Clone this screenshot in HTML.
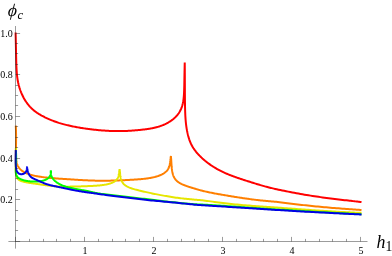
<!DOCTYPE html>
<html><head><meta charset="utf-8"><style>
html,body{margin:0;padding:0;background:#fff;}
body{width:392px;height:256px;position:relative;overflow:hidden;font-family:"Liberation Serif",serif;color:#000;}
.xl{position:absolute;left:0;top:0;transform-origin:0 0;width:20px;text-align:center;font-size:10px;line-height:12px;}
.yl{position:absolute;left:0;top:0;transform-origin:0 0;width:30px;text-align:right;font-size:10px;line-height:12px;}
.t{position:absolute;left:0;top:0;transform-origin:0 0;font-style:italic;white-space:nowrap;}
.xl,.yl,.t{will-change:transform;}
.t sub{font-size:76%;vertical-align:baseline;position:relative;}
</style></head><body>
<svg width="392" height="256" viewBox="0 0 392 256" style="position:absolute;left:0;top:0">
<path d="M15.60 32.50L15.67 35.33L15.74 38.05L15.80 40.65L15.85 43.16L15.90 45.56L15.95 47.86L15.99 50.07L16.03 52.19L16.07 54.22L16.12 56.17L16.16 58.04L16.20 59.83L16.24 61.19L16.27 62.32L16.30 63.41L16.34 64.47L16.38 65.50L16.42 66.51L16.46 67.50L16.51 68.45L16.56 69.39L16.61 70.30L16.67 71.19L16.73 72.06L16.79 72.85L16.84 73.44L16.89 74.03L16.95 74.61L17.00 75.17L17.06 75.74L17.12 76.29L17.19 76.84L17.26 77.38L17.33 77.92L17.40 78.45L17.48 78.97L17.56 79.49L17.65 80.01L17.74 80.52L17.83 81.03L17.93 81.54L18.03 82.04L18.13 82.55L18.24 83.05L18.35 83.54L18.47 84.04L18.59 84.54L18.71 85.03L18.85 85.53L18.98 86.04L19.13 86.56L19.29 87.09L19.44 87.62L19.61 88.14L19.78 88.67L19.95 89.19L20.13 89.72L20.32 90.24L20.51 90.77L20.71 91.29L20.91 91.81L21.11 92.33L21.32 92.83L21.53 93.32L21.74 93.81L21.96 94.31L22.18 94.80L22.41 95.28L22.64 95.77L22.88 96.26L23.12 96.74L23.37 97.22L23.63 97.70L23.88 98.17L24.16 98.66L24.44 99.15L24.73 99.64L25.02 100.12L25.32 100.61L25.63 101.08L25.94 101.56L26.25 102.03L26.58 102.49L26.90 102.96L27.24 103.41L27.58 103.87L27.92 104.31L28.27 104.75L28.62 105.18L28.98 105.61L29.34 106.03L29.71 106.45L30.09 106.87L30.47 107.27L30.86 107.67L31.25 108.07L31.65 108.46L32.06 108.85L32.47 109.22L32.90 109.61L33.35 110.00L33.80 110.38L34.26 110.75L34.72 111.11L35.19 111.47L35.66 111.82L36.14 112.17L36.63 112.51L37.12 112.85L37.62 113.18L38.13 113.51L38.63 113.82L39.12 114.13L39.63 114.43L40.13 114.73L40.65 115.03L41.17 115.32L41.69 115.61L42.22 115.89L42.75 116.17L43.28 116.45L43.83 116.73L44.37 117.00L44.92 117.28L45.47 117.54L46.02 117.81L46.58 118.07L47.14 118.33L47.71 118.59L48.28 118.84L48.85 119.10L49.43 119.35L50.02 119.60L50.61 119.84L51.20 120.09L51.80 120.33L52.55 120.62L53.31 120.91L54.07 121.20L54.85 121.49L55.63 121.77L56.42 122.04L57.22 122.32L58.03 122.58L58.85 122.85L59.67 123.10L60.50 123.36L61.34 123.61L62.23 123.86L63.17 124.12L64.11 124.38L65.06 124.63L66.02 124.87L66.98 125.11L67.96 125.34L68.94 125.57L69.93 125.79L70.92 126.01L71.92 126.23L72.93 126.43L73.94 126.63L74.95 126.83L75.96 127.02L76.97 127.21L77.99 127.39L79.01 127.57L80.04 127.74L81.06 127.91L82.09 128.07L83.11 128.23L84.14 128.38L85.17 128.53L86.20 128.68L87.19 128.81L88.17 128.94L89.15 129.07L90.13 129.19L91.10 129.31L92.08 129.43L93.05 129.54L94.01 129.65L94.98 129.75L95.94 129.85L96.89 129.95L97.84 130.04L98.81 130.13L99.79 130.22L100.76 130.31L101.73 130.39L102.69 130.47L103.65 130.54L104.61 130.61L105.56 130.68L106.50 130.74L107.44 130.80L108.38 130.85L109.31 130.90L110.22 130.94L111.00 130.97L111.77 131.00L112.54 131.03L113.31 131.05L114.07 131.07L114.84 131.09L115.60 131.10L116.36 131.11L117.12 131.12L117.88 131.12L118.64 131.12L119.39 131.12L120.19 131.11L121.00 131.10L121.80 131.09L122.61 131.07L123.41 131.04L124.21 131.02L125.01 130.99L125.81 130.95L126.60 130.92L127.40 130.88L128.19 130.83L128.98 130.79L129.76 130.74L130.55 130.69L131.33 130.64L132.10 130.58L132.88 130.53L133.65 130.47L134.42 130.40L135.18 130.34L135.94 130.28L136.70 130.21L137.45 130.14L138.20 130.07L138.94 130.00L139.59 129.94L140.24 129.88L140.88 129.81L141.53 129.75L142.16 129.68L142.80 129.61L143.43 129.54L144.06 129.46L144.68 129.39L145.30 129.31L145.92 129.23L146.54 129.15L147.11 129.07L147.66 128.99L148.21 128.91L148.76 128.83L149.30 128.74L149.85 128.65L150.39 128.56L150.92 128.46L151.46 128.37L151.99 128.27L152.52 128.16L153.05 128.05L153.58 127.94L154.10 127.83L154.63 127.71L155.15 127.58L155.67 127.46L156.19 127.32L156.71 127.19L157.22 127.05L157.73 126.90L158.24 126.76L158.75 126.60L159.25 126.44L159.76 126.28L160.26 126.11L160.77 125.93L161.27 125.75L161.77 125.57L162.27 125.37L162.76 125.18L163.26 124.97L163.75 124.76L164.24 124.55L164.73 124.33L165.21 124.10L165.70 123.86L166.19 123.62L166.69 123.36L167.19 123.09L167.68 122.82L168.17 122.54L168.66 122.26L169.14 121.97L169.62 121.67L170.10 121.36L170.57 121.05L171.03 120.73L171.49 120.41L171.94 120.08L172.37 119.76L172.79 119.44L173.21 119.10L173.62 118.77L174.02 118.42L174.42 118.08L174.80 117.73L175.18 117.37L175.56 117.01L175.92 116.64L176.27 116.27L176.62 115.89L176.94 115.53L177.26 115.16L177.56 114.79L177.86 114.41L178.14 114.03L178.42 113.65L178.70 113.26L178.96 112.87L179.21 112.47L179.46 112.07L179.70 111.66L179.93 111.25L180.15 110.85L180.36 110.45L180.56 110.05L180.75 109.64L180.94 109.23L181.12 108.82L181.30 108.40L181.46 107.97L181.62 107.55L181.78 107.12L181.93 106.68L182.07 106.25L182.21 105.80L182.33 105.38L182.45 104.94L182.56 104.50L182.67 104.06L182.78 103.61L182.88 103.16L182.97 102.70L183.06 102.23L183.15 101.76L183.23 101.28L183.31 100.80L183.38 100.30L183.47 99.63L183.57 98.87L183.65 98.10L183.73 97.31L183.80 96.49L183.87 95.66L183.93 94.79L183.98 93.91L184.03 93.00L184.07 92.06L184.11 91.09L184.15 90.10L184.19 88.86L184.24 87.18L184.28 85.43L184.31 83.59L184.35 81.66L184.38 79.63L184.42 77.51L184.46 75.29L184.50 72.96L184.55 70.52L184.61 67.97L184.67 65.29L184.75 62.50L184.75 62.50L184.77 65.84L184.80 69.07L184.81 72.18L184.83 75.18L184.84 78.07L184.85 80.85L184.86 83.53L184.87 86.11L184.88 88.60L184.88 90.99L184.89 93.30L184.91 95.51L184.92 97.40L184.93 98.85L184.94 100.26L184.96 101.63L184.98 102.97L184.99 104.28L185.01 105.55L185.04 106.79L185.06 107.99L185.09 109.17L185.13 110.32L185.16 111.44L185.20 112.54L185.24 113.39L185.27 114.17L185.30 114.94L185.34 115.69L185.38 116.43L185.43 117.16L185.47 117.88L185.52 118.59L185.57 119.29L185.62 119.98L185.68 120.66L185.74 121.33L185.80 121.98L185.86 122.58L185.92 123.17L185.98 123.76L186.05 124.34L186.12 124.92L186.19 125.49L186.27 126.06L186.35 126.62L186.43 127.18L186.52 127.74L186.60 128.29L186.69 128.84L186.78 129.32L186.85 129.74L186.93 130.17L187.01 130.59L187.09 131.02L187.18 131.44L187.27 131.86L187.35 132.28L187.45 132.71L187.54 133.13L187.63 133.55L187.73 133.97L187.83 134.40L187.96 134.90L188.09 135.42L188.22 135.94L188.36 136.45L188.50 136.97L188.65 137.49L188.80 138.01L188.96 138.53L189.13 139.05L189.30 139.58L189.48 140.10L189.67 140.62L189.89 141.19L190.14 141.82L190.40 142.46L190.68 143.11L190.97 143.75L191.28 144.39L191.61 145.04L191.95 145.68L192.31 146.33L192.68 146.98L193.08 147.63L193.49 148.28L193.93 148.94L194.40 149.61L194.89 150.28L195.40 150.95L195.93 151.63L196.48 152.30L197.05 152.98L197.64 153.65L198.25 154.32L198.88 154.99L199.52 155.66L200.18 156.32L200.85 156.98L201.55 157.65L202.40 158.44L203.27 159.21L204.16 159.98L205.06 160.74L205.99 161.49L206.92 162.23L207.87 162.96L208.83 163.68L209.81 164.38L210.79 165.07L211.79 165.74L212.79 166.40L213.78 167.02L214.75 167.62L215.73 168.21L216.71 168.78L217.70 169.33L218.70 169.87L219.70 170.40L220.70 170.91L221.71 171.42L222.72 171.91L223.74 172.38L224.76 172.85L225.78 173.31L226.78 173.74L227.78 174.17L228.79 174.59L229.79 174.99L230.80 175.39L231.81 175.78L232.83 176.17L233.84 176.54L234.85 176.91L235.87 177.27L236.88 177.63L237.89 177.98L238.90 178.32L239.90 178.66L240.90 178.99L241.90 179.31L242.89 179.64L243.89 179.96L244.88 180.27L245.87 180.59L246.86 180.90L247.85 181.21L248.83 181.51L249.82 181.82L250.79 182.13L251.77 182.43L252.74 182.74L253.71 183.04L254.68 183.34L255.64 183.64L256.60 183.94L257.55 184.24L258.50 184.53L259.44 184.81L260.38 185.09L261.32 185.37L262.24 185.64L263.16 185.91L263.99 186.14L264.83 186.37L265.66 186.60L266.50 186.82L267.35 187.04L268.21 187.27L269.09 187.49L269.98 187.71L270.90 187.93L271.84 188.15L272.81 188.38L273.81 188.61L275.10 188.90L276.78 189.27L278.53 189.65L280.35 190.04L282.23 190.44L284.16 190.84L286.14 191.24L288.15 191.64L290.19 192.04L292.24 192.43L294.31 192.83L296.37 193.21L298.44 193.59L300.48 193.95L302.50 194.31L304.52 194.65L306.53 194.99L308.53 195.31L310.52 195.63L312.52 195.94L314.51 196.25L316.51 196.54L318.51 196.83L320.52 197.12L322.54 197.40L324.58 197.67L326.62 197.94L328.67 198.21L330.71 198.47L332.76 198.73L334.80 198.98L336.81 199.22L338.81 199.46L340.78 199.69L342.72 199.92L344.61 200.14L346.46 200.35L348.26 200.56L349.70 200.72L350.90 200.86L352.07 200.99L353.20 201.12L354.30 201.25L355.36 201.37L356.38 201.49L357.35 201.60L358.28 201.71L359.16 201.81L359.99 201.91L360.77 202.01L361.50 202.10" fill="none" stroke="#ff0000" stroke-width="2.0" stroke-linejoin="miter" stroke-linecap="butt"/>
<path d="M15.80 125.59L15.90 128.07L15.98 130.45L16.03 132.73L16.06 134.93L16.08 137.03L16.08 139.05L16.07 140.99L16.05 142.84L16.02 144.62L15.99 146.32L15.96 147.94L15.93 149.50L15.91 150.70L15.90 151.62L15.90 152.51L15.90 153.38L15.90 154.22L15.91 155.04L15.93 155.84L15.95 156.61L15.99 157.35L16.03 158.08L16.09 158.79L16.15 159.47L16.22 160.12L16.29 160.57L16.35 161.01L16.43 161.45L16.51 161.88L16.59 162.29L16.69 162.70L16.79 163.10L16.90 163.50L17.02 163.88L17.15 164.26L17.29 164.63L17.43 164.99L17.58 165.33L17.73 165.65L17.89 165.97L18.05 166.28L18.23 166.58L18.41 166.88L18.60 167.18L18.80 167.47L19.00 167.75L19.22 168.03L19.44 168.30L19.66 168.57L19.91 168.84L20.21 169.15L20.52 169.46L20.84 169.76L21.17 170.05L21.51 170.33L21.86 170.61L22.22 170.88L22.60 171.14L22.98 171.40L23.38 171.65L23.79 171.89L24.20 172.13L24.64 172.37L25.09 172.60L25.56 172.83L26.03 173.05L26.52 173.26L27.02 173.47L27.53 173.68L28.05 173.87L28.58 174.07L29.12 174.25L29.67 174.43L30.23 174.61L30.82 174.79L31.51 174.98L32.21 175.17L32.93 175.35L33.65 175.53L34.39 175.69L35.14 175.86L35.91 176.01L36.68 176.16L37.46 176.31L38.25 176.45L39.06 176.59L39.87 176.72L40.79 176.86L41.76 176.99L42.73 177.13L43.71 177.25L44.70 177.37L45.70 177.49L46.71 177.60L47.72 177.71L48.74 177.81L49.76 177.91L50.79 178.00L51.82 178.09L52.85 178.18L53.88 178.26L54.91 178.34L55.95 178.41L56.98 178.49L58.01 178.56L59.04 178.63L60.07 178.70L61.09 178.77L62.11 178.84L63.13 178.90L64.14 178.97L65.14 179.03L66.14 179.10L67.13 179.16L68.11 179.22L69.09 179.29L70.07 179.35L71.03 179.41L72.00 179.48L72.95 179.54L73.91 179.60L74.86 179.66L75.80 179.72L76.74 179.78L77.66 179.84L78.55 179.89L79.44 179.94L80.32 179.99L81.21 180.04L82.09 180.09L82.97 180.14L83.85 180.19L84.72 180.23L85.60 180.28L86.48 180.32L87.36 180.36L88.24 180.39L89.02 180.43L89.79 180.46L90.57 180.49L91.35 180.51L92.13 180.54L92.91 180.56L93.69 180.59L94.48 180.61L95.26 180.63L96.05 180.64L96.84 180.66L97.64 180.67L98.51 180.68L99.47 180.70L100.43 180.70L101.39 180.71L102.36 180.71L103.33 180.71L104.30 180.71L105.27 180.70L106.25 180.69L107.23 180.68L108.21 180.67L109.19 180.65L110.17 180.64L111.15 180.62L112.13 180.60L113.12 180.57L114.10 180.55L115.08 180.52L116.06 180.49L117.04 180.45L118.02 180.42L118.99 180.39L119.97 180.35L120.94 180.31L121.91 180.27L122.85 180.23L123.78 180.18L124.70 180.14L125.62 180.10L126.53 180.05L127.45 180.00L128.35 179.95L129.25 179.91L130.15 179.85L131.05 179.80L131.93 179.75L132.82 179.70L133.67 179.64L134.40 179.60L135.12 179.55L135.84 179.50L136.56 179.45L137.27 179.40L137.97 179.35L138.67 179.30L139.37 179.24L140.06 179.19L140.75 179.13L141.43 179.07L142.11 179.01L142.78 178.94L143.45 178.87L144.11 178.80L144.77 178.73L145.42 178.65L146.07 178.57L146.71 178.49L147.35 178.41L147.98 178.32L148.60 178.22L149.22 178.13L149.84 178.03L150.44 177.92L151.01 177.82L151.57 177.71L152.13 177.60L152.68 177.49L153.23 177.37L153.77 177.24L154.31 177.11L154.84 176.98L155.36 176.84L155.88 176.70L156.40 176.55L156.91 176.40L157.38 176.25L157.83 176.10L158.28 175.95L158.72 175.79L159.15 175.63L159.58 175.46L160.01 175.29L160.43 175.12L160.84 174.93L161.24 174.75L161.64 174.55L162.03 174.36L162.40 174.16L162.74 173.97L163.08 173.78L163.40 173.59L163.72 173.39L164.04 173.18L164.34 172.97L164.64 172.76L164.93 172.54L165.22 172.31L165.50 172.08L165.77 171.85L166.03 171.61L166.26 171.40L166.47 171.18L166.68 170.96L166.88 170.74L167.08 170.51L167.27 170.28L167.45 170.05L167.62 169.81L167.79 169.56L167.96 169.32L168.11 169.07L168.26 168.81L168.40 168.55L168.53 168.30L168.65 168.04L168.77 167.78L168.88 167.51L168.98 167.24L169.08 166.97L169.18 166.69L169.27 166.41L169.35 166.13L169.43 165.84L169.51 165.56L169.58 165.27L169.66 164.92L169.73 164.57L169.80 164.21L169.87 163.85L169.93 163.49L169.99 163.12L170.04 162.76L170.10 162.39L170.14 162.01L170.19 161.64L170.24 161.27L170.28 160.89L170.32 160.51L170.37 160.14L170.41 159.76L170.45 159.39L170.49 159.01L170.54 158.63L170.58 158.25L170.63 157.88L170.68 157.50L170.73 157.12L170.78 156.75L170.84 156.37L170.90 156.00L170.90 156.00L170.94 156.43L170.98 156.85L171.02 157.28L171.05 157.71L171.08 158.13L171.12 158.56L171.15 158.98L171.18 159.40L171.20 159.83L171.23 160.25L171.26 160.67L171.28 161.09L171.30 161.48L171.32 161.85L171.35 162.21L171.37 162.57L171.39 162.93L171.41 163.29L171.43 163.65L171.45 164.01L171.47 164.37L171.50 164.72L171.52 165.08L171.54 165.43L171.57 165.78L171.60 166.12L171.62 166.46L171.65 166.79L171.68 167.12L171.71 167.45L171.74 167.78L171.77 168.11L171.80 168.44L171.84 168.76L171.88 169.08L171.92 169.40L171.96 169.72L172.00 170.05L172.05 170.38L172.10 170.71L172.16 171.04L172.21 171.37L172.27 171.69L172.33 172.01L172.40 172.33L172.47 172.65L172.54 172.96L172.61 173.27L172.69 173.58L172.77 173.89L172.85 174.17L172.94 174.44L173.02 174.71L173.11 174.98L173.20 175.25L173.30 175.52L173.40 175.78L173.50 176.04L173.61 176.29L173.72 176.55L173.84 176.80L173.96 177.05L174.07 177.27L174.18 177.47L174.29 177.68L174.40 177.87L174.52 178.07L174.64 178.27L174.76 178.46L174.89 178.65L175.02 178.83L175.15 179.02L175.29 179.20L175.43 179.38L175.57 179.56L175.72 179.74L175.87 179.91L176.02 180.08L176.18 180.25L176.34 180.41L176.51 180.58L176.67 180.74L176.85 180.90L177.02 181.05L177.20 181.21L177.38 181.36L177.57 181.51L177.79 181.69L178.05 181.89L178.32 182.08L178.60 182.28L178.88 182.47L179.16 182.65L179.45 182.84L179.75 183.01L180.05 183.19L180.36 183.36L180.67 183.53L180.98 183.70L181.30 183.87L181.60 184.02L181.91 184.17L182.22 184.31L182.53 184.46L182.85 184.60L183.17 184.74L183.49 184.88L183.82 185.01L184.15 185.15L184.48 185.28L184.82 185.41L185.16 185.54L185.50 185.67L185.83 185.79L186.17 185.91L186.51 186.04L186.86 186.16L187.21 186.27L187.55 186.39L187.90 186.51L188.26 186.63L188.61 186.74L188.97 186.86L189.33 186.97L189.69 187.08L190.16 187.23L190.63 187.38L191.11 187.52L191.58 187.67L192.06 187.81L192.54 187.95L193.03 188.10L193.51 188.24L194.00 188.39L194.49 188.53L194.98 188.68L195.47 188.82L195.93 188.96L196.36 189.09L196.80 189.22L197.24 189.35L197.69 189.48L198.14 189.62L198.59 189.75L199.05 189.88L199.52 190.02L200.00 190.15L200.49 190.29L200.99 190.42L201.51 190.56L202.32 190.77L203.17 190.98L204.04 191.19L204.93 191.40L205.85 191.61L206.79 191.82L207.74 192.02L208.71 192.23L209.69 192.43L210.68 192.63L211.69 192.83L212.69 193.03L213.70 193.23L214.72 193.42L215.73 193.61L216.75 193.79L217.77 193.98L218.79 194.16L219.81 194.34L220.83 194.51L221.86 194.69L222.88 194.87L223.90 195.04L224.93 195.21L225.95 195.39L226.97 195.56L228.00 195.73L229.02 195.90L230.04 196.07L231.05 196.23L232.07 196.40L233.09 196.57L234.10 196.73L235.12 196.89L236.13 197.05L237.14 197.21L238.15 197.37L239.16 197.53L240.17 197.69L241.17 197.84L242.17 197.99L243.17 198.14L244.17 198.29L245.17 198.43L246.16 198.58L247.15 198.72L248.14 198.86L249.13 198.99L250.11 199.13L251.09 199.26L252.07 199.39L253.04 199.51L254.01 199.63L254.98 199.75L255.94 199.87L256.90 199.98L257.86 200.09L258.81 200.20L259.76 200.30L260.71 200.40L261.65 200.50L262.59 200.59L263.48 200.68L264.34 200.76L265.19 200.83L266.05 200.91L266.91 200.99L267.78 201.06L268.67 201.14L269.58 201.22L270.50 201.30L271.45 201.39L272.42 201.48L273.42 201.58L274.45 201.68L276.12 201.86L277.86 202.05L279.66 202.26L281.53 202.47L283.45 202.70L285.42 202.94L287.42 203.18L289.45 203.42L291.50 203.67L293.57 203.92L295.64 204.17L297.71 204.42L299.77 204.66L301.82 204.90L303.86 205.13L305.89 205.35L307.91 205.57L309.93 205.79L311.95 206.00L313.97 206.21L315.99 206.41L318.02 206.61L320.05 206.80L322.09 206.99L324.14 207.18L326.20 207.36L328.27 207.54L330.34 207.71L332.40 207.88L334.46 208.05L336.49 208.21L338.51 208.36L340.50 208.52L342.45 208.66L344.36 208.81L346.23 208.94L348.05 209.08L349.56 209.19L350.77 209.27L351.95 209.36L353.10 209.44L354.21 209.52L355.28 209.60L356.31 209.67L357.29 209.74L358.23 209.81L359.12 209.87L359.97 209.94L360.76 209.99L361.50 210.05" fill="none" stroke="#ff7f00" stroke-width="2.0" stroke-linejoin="miter" stroke-linecap="butt"/>
<path d="M15.90 147.84L15.91 149.56L15.92 151.21L15.91 152.80L15.91 154.34L15.89 155.81L15.88 157.23L15.86 158.59L15.84 159.89L15.81 161.15L15.79 162.35L15.77 163.50L15.75 164.60L15.74 165.43L15.73 166.08L15.73 166.72L15.72 167.33L15.72 167.93L15.72 168.50L15.72 169.07L15.73 169.61L15.74 170.14L15.75 170.64L15.77 171.14L15.79 171.62L15.81 172.05L15.83 172.35L15.85 172.64L15.87 172.92L15.90 173.20L15.92 173.47L15.95 173.73L15.98 173.99L16.02 174.24L16.05 174.49L16.09 174.73L16.13 174.96L16.18 175.19L16.22 175.39L16.26 175.58L16.31 175.77L16.35 175.95L16.40 176.13L16.45 176.30L16.51 176.47L16.56 176.64L16.62 176.80L16.68 176.96L16.75 177.12L16.81 177.27L16.88 177.42L16.94 177.55L17.01 177.68L17.08 177.81L17.15 177.94L17.23 178.06L17.30 178.18L17.38 178.30L17.46 178.42L17.55 178.53L17.64 178.64L17.72 178.75L17.82 178.86L17.92 178.97L18.03 179.09L18.14 179.20L18.26 179.31L18.38 179.41L18.50 179.52L18.63 179.62L18.76 179.72L18.89 179.82L19.03 179.91L19.17 180.01L19.31 180.10L19.47 180.19L19.63 180.28L19.80 180.37L19.97 180.46L20.15 180.55L20.33 180.63L20.52 180.72L20.71 180.80L20.91 180.88L21.11 180.96L21.32 181.03L21.53 181.11L21.74 181.18L21.96 181.26L22.19 181.33L22.41 181.40L22.64 181.46L22.88 181.53L23.12 181.60L23.37 181.66L23.62 181.73L23.87 181.79L24.13 181.85L24.39 181.91L24.66 181.97L25.02 182.05L25.45 182.14L25.88 182.23L26.33 182.32L26.78 182.41L27.24 182.49L27.70 182.57L28.17 182.65L28.65 182.73L29.13 182.81L29.62 182.89L30.11 182.96L30.60 183.04L31.10 183.11L31.60 183.19L32.10 183.26L32.61 183.33L33.12 183.40L33.63 183.48L34.14 183.55L34.65 183.62L35.16 183.69L35.67 183.76L36.18 183.84L36.68 183.91L37.19 183.98L37.70 184.06L38.20 184.13L38.71 184.20L39.21 184.28L39.71 184.35L40.21 184.43L40.71 184.50L41.21 184.58L41.71 184.65L42.21 184.72L42.71 184.80L43.18 184.87L43.59 184.92L44.00 184.98L44.41 185.04L44.82 185.10L45.23 185.16L45.64 185.22L46.06 185.27L46.47 185.33L46.89 185.38L47.30 185.44L47.72 185.49L48.14 185.54L48.69 185.61L49.25 185.68L49.81 185.74L50.37 185.81L50.94 185.87L51.51 185.93L52.09 185.98L52.67 186.04L53.25 186.09L53.84 186.14L54.43 186.19L55.03 186.24L55.68 186.28L56.38 186.33L57.08 186.37L57.80 186.41L58.51 186.44L59.24 186.48L59.96 186.50L60.70 186.53L61.43 186.55L62.17 186.57L62.92 186.59L63.66 186.60L64.41 186.61L65.06 186.62L65.71 186.63L66.36 186.63L67.02 186.63L67.68 186.64L68.33 186.63L68.99 186.63L69.65 186.63L70.31 186.62L70.96 186.62L71.62 186.61L72.28 186.60L72.97 186.59L73.68 186.57L74.38 186.56L75.09 186.54L75.79 186.53L76.49 186.51L77.18 186.49L77.88 186.47L78.57 186.45L79.26 186.43L79.94 186.41L80.62 186.38L81.28 186.36L81.90 186.34L82.52 186.32L83.13 186.29L83.74 186.27L84.35 186.25L84.94 186.22L85.54 186.20L86.12 186.17L86.71 186.15L87.28 186.13L87.85 186.10L88.42 186.08L88.84 186.06L89.23 186.05L89.62 186.03L90.01 186.01L90.39 186.00L90.77 185.98L91.15 185.97L91.53 185.95L91.90 185.93L92.28 185.91L92.65 185.90L93.02 185.88L93.45 185.85L93.98 185.83L94.50 185.80L95.02 185.77L95.55 185.73L96.07 185.70L96.60 185.66L97.12 185.62L97.66 185.58L98.19 185.54L98.73 185.49L99.27 185.44L99.82 185.39L100.33 185.33L100.84 185.28L101.36 185.22L101.88 185.16L102.40 185.10L102.92 185.03L103.43 184.96L103.95 184.88L104.47 184.80L104.98 184.72L105.49 184.63L106.00 184.54L106.49 184.44L106.98 184.34L107.45 184.23L107.92 184.12L108.39 184.00L108.84 183.88L109.29 183.75L109.74 183.61L110.17 183.47L110.60 183.33L111.02 183.18L111.43 183.02L111.82 182.86L112.13 182.73L112.44 182.60L112.73 182.46L113.03 182.31L113.31 182.17L113.59 182.02L113.87 181.86L114.13 181.70L114.39 181.54L114.65 181.37L114.90 181.20L115.14 181.03L115.36 180.85L115.58 180.67L115.79 180.49L116.00 180.31L116.20 180.12L116.39 179.92L116.57 179.73L116.75 179.52L116.92 179.32L117.08 179.11L117.23 178.89L117.38 178.68L117.51 178.45L117.64 178.23L117.76 178.00L117.87 177.77L117.98 177.54L118.08 177.30L118.17 177.06L118.26 176.82L118.34 176.57L118.42 176.32L118.49 176.07L118.56 175.81L118.62 175.56L118.68 175.30L118.73 175.04L118.78 174.79L118.83 174.53L118.87 174.27L118.91 174.00L118.95 173.74L118.99 173.48L119.03 173.21L119.06 172.95L119.09 172.69L119.13 172.42L119.16 172.16L119.19 171.90L119.22 171.64L119.25 171.38L119.28 171.12L119.32 170.86L119.35 170.60L119.39 170.35L119.43 170.09L119.47 169.84L119.51 169.59L119.55 169.34L119.60 169.10L119.60 169.10L119.65 169.50L119.70 169.89L119.74 170.29L119.78 170.68L119.82 171.06L119.86 171.44L119.90 171.82L119.94 172.19L119.98 172.57L120.01 172.93L120.05 173.30L120.09 173.66L120.12 174.00L120.16 174.32L120.20 174.64L120.23 174.96L120.27 175.27L120.31 175.58L120.35 175.89L120.40 176.19L120.45 176.49L120.49 176.79L120.55 177.08L120.60 177.38L120.66 177.67L120.71 177.94L120.77 178.20L120.84 178.46L120.90 178.72L120.97 178.98L121.04 179.23L121.12 179.48L121.20 179.73L121.29 179.98L121.38 180.22L121.47 180.46L121.57 180.70L121.67 180.94L121.78 181.17L121.89 181.40L122.01 181.63L122.13 181.85L122.26 182.07L122.40 182.29L122.54 182.51L122.68 182.73L122.84 182.94L123.00 183.15L123.16 183.36L123.34 183.56L123.52 183.77L123.72 183.99L123.93 184.20L124.15 184.41L124.37 184.61L124.61 184.81L124.85 185.01L125.11 185.21L125.37 185.40L125.64 185.59L125.93 185.78L126.22 185.97L126.52 186.15L126.96 186.40L127.43 186.65L127.92 186.89L128.44 187.13L128.96 187.37L129.51 187.60L130.08 187.82L130.66 188.04L131.26 188.26L131.88 188.47L132.51 188.68L133.16 188.88L133.88 189.10L134.73 189.35L135.59 189.59L136.48 189.83L137.39 190.07L138.31 190.30L139.25 190.54L140.21 190.76L141.18 190.99L142.16 191.22L143.15 191.44L144.16 191.67L145.17 191.89L146.28 192.14L147.44 192.39L148.60 192.64L149.78 192.89L150.96 193.14L152.16 193.40L153.36 193.65L154.57 193.90L155.79 194.14L157.02 194.39L158.25 194.63L159.49 194.87L160.76 195.11L162.11 195.37L163.47 195.62L164.83 195.86L166.21 196.10L167.59 196.34L168.98 196.57L170.38 196.80L171.78 197.02L173.19 197.23L174.60 197.44L176.03 197.64L177.45 197.84L178.88 198.03L180.32 198.21L181.75 198.38L183.17 198.54L184.57 198.70L185.96 198.85L187.32 198.99L188.65 199.12L189.94 199.25L191.18 199.36L192.38 199.47L193.53 199.57L194.61 199.66L195.24 199.71L195.79 199.75L196.34 199.79L196.88 199.84L197.41 199.88L197.94 199.92L198.47 199.97L199.01 200.01L199.56 200.06L200.13 200.11L200.71 200.17L201.32 200.23L202.16 200.32L203.63 200.49L205.22 200.68L206.92 200.90L208.71 201.13L210.59 201.38L212.54 201.63L214.55 201.90L216.61 202.17L218.69 202.44L220.80 202.71L222.92 202.98L225.04 203.24L227.14 203.49L229.22 203.73L231.28 203.96L233.33 204.18L235.36 204.38L237.37 204.58L239.37 204.77L241.36 204.96L243.34 205.13L245.30 205.30L247.26 205.46L249.20 205.62L251.13 205.77L252.98 205.91L254.83 206.05L256.66 206.18L258.50 206.31L260.33 206.44L262.16 206.57L263.99 206.69L265.81 206.82L267.64 206.94L269.47 207.06L271.30 207.19L273.14 207.32L275.01 207.45L276.93 207.58L278.86 207.72L280.79 207.86L282.73 208.00L284.67 208.14L286.62 208.28L288.57 208.42L290.53 208.57L292.49 208.71L294.46 208.86L296.44 209.00L298.42 209.15L300.40 209.29L302.39 209.44L304.38 209.58L306.38 209.73L308.39 209.87L310.40 210.01L312.42 210.16L314.44 210.30L316.47 210.43L318.51 210.57L320.55 210.71L322.60 210.84L324.65 210.97L326.71 211.10L328.77 211.23L330.82 211.35L332.86 211.47L334.89 211.59L336.90 211.70L338.88 211.81L340.83 211.92L342.75 212.02L344.63 212.12L346.46 212.21L348.24 212.30L349.66 212.37L350.85 212.43L352.02 212.48L353.14 212.53L354.24 212.58L355.29 212.63L356.31 212.67L357.28 212.71L358.22 212.74L359.11 212.77L359.95 212.80L360.75 212.83L361.50 212.85" fill="none" stroke="#e6e600" stroke-width="2.0" stroke-linejoin="miter" stroke-linecap="butt"/>
<path d="M15.95 150.91L16.02 152.27L16.08 153.59L16.12 154.85L16.15 156.07L16.16 157.25L16.17 158.37L16.17 159.46L16.15 160.50L16.13 161.50L16.11 162.46L16.08 163.38L16.04 164.27L16.01 165.02L15.99 165.56L15.96 166.08L15.94 166.59L15.92 167.08L15.90 167.56L15.88 168.03L15.86 168.48L15.84 168.92L15.83 169.35L15.82 169.76L15.81 170.16L15.81 170.55L15.81 170.84L15.81 171.06L15.82 171.29L15.82 171.50L15.83 171.72L15.84 171.93L15.85 172.14L15.86 172.34L15.88 172.54L15.90 172.73L15.92 172.93L15.94 173.11L15.96 173.30L15.99 173.48L16.02 173.66L16.05 173.84L16.09 174.01L16.13 174.18L16.17 174.35L16.21 174.51L16.26 174.67L16.31 174.83L16.37 174.99L16.42 175.14L16.48 175.29L16.55 175.44L16.61 175.57L16.67 175.70L16.74 175.82L16.81 175.95L16.88 176.07L16.96 176.20L17.04 176.32L17.12 176.44L17.20 176.55L17.29 176.67L17.38 176.78L17.47 176.89L17.57 177.01L17.67 177.12L17.77 177.23L17.88 177.34L17.99 177.45L18.11 177.55L18.22 177.66L18.34 177.76L18.47 177.86L18.59 177.96L18.72 178.06L18.85 178.15L18.99 178.25L19.17 178.37L19.36 178.49L19.55 178.61L19.76 178.73L19.96 178.84L20.17 178.95L20.39 179.06L20.61 179.16L20.84 179.27L21.07 179.37L21.30 179.46L21.54 179.56L21.78 179.65L22.00 179.73L22.23 179.81L22.45 179.89L22.68 179.96L22.92 180.03L23.15 180.10L23.39 180.17L23.64 180.24L23.89 180.31L24.14 180.37L24.39 180.44L24.65 180.50L24.98 180.58L25.39 180.67L25.80 180.75L26.22 180.83L26.65 180.91L27.08 180.99L27.52 181.06L27.96 181.13L28.41 181.19L28.87 181.25L29.33 181.31L29.79 181.36L30.25 181.41L30.69 181.45L31.12 181.48L31.55 181.51L31.99 181.54L32.42 181.57L32.86 181.58L33.29 181.60L33.73 181.61L34.17 181.62L34.61 181.62L35.04 181.62L35.48 181.62L35.91 181.61L36.33 181.59L36.74 181.58L37.15 181.55L37.56 181.53L37.97 181.50L38.37 181.46L38.78 181.42L39.18 181.38L39.57 181.33L39.96 181.28L40.35 181.22L40.74 181.16L41.12 181.09L41.50 181.02L41.87 180.94L42.24 180.86L42.60 180.77L42.96 180.68L43.31 180.58L43.65 180.48L43.99 180.37L44.33 180.26L44.65 180.14L44.97 180.01L45.29 179.88L45.56 179.76L45.82 179.64L46.07 179.52L46.31 179.39L46.55 179.26L46.79 179.13L47.02 178.99L47.24 178.84L47.46 178.69L47.67 178.54L47.87 178.39L48.07 178.23L48.26 178.07L48.45 177.90L48.63 177.73L48.80 177.56L48.97 177.38L49.13 177.20L49.29 177.01L49.44 176.83L49.58 176.63L49.72 176.44L49.85 176.24L49.97 176.04L50.09 175.83L50.19 175.63L50.28 175.44L50.37 175.25L50.45 175.06L50.53 174.87L50.60 174.67L50.66 174.47L50.72 174.26L50.78 174.06L50.83 173.85L50.87 173.64L50.91 173.43L50.94 173.21L50.96 173.00L50.98 172.79L51.00 172.58L51.01 172.36L51.01 172.14L51.01 171.92L51.00 171.70L50.99 171.48L50.97 171.25L50.95 171.03L50.92 170.80L50.89 170.56L50.85 170.33L50.85 170.33L50.82 170.57L50.79 170.81L50.77 171.04L50.75 171.28L50.74 171.51L50.73 171.75L50.73 171.98L50.73 172.21L50.73 172.44L50.74 172.67L50.76 172.90L50.78 173.12L50.80 173.35L50.83 173.56L50.86 173.78L50.90 173.99L50.94 174.20L50.98 174.41L51.03 174.63L51.09 174.83L51.14 175.04L51.21 175.25L51.27 175.45L51.34 175.66L51.41 175.86L51.51 176.11L51.61 176.35L51.72 176.60L51.83 176.84L51.95 177.08L52.08 177.31L52.21 177.55L52.34 177.78L52.49 178.01L52.64 178.24L52.79 178.47L52.95 178.70L53.12 178.93L53.30 179.16L53.49 179.39L53.68 179.62L53.88 179.85L54.09 180.07L54.30 180.29L54.52 180.51L54.74 180.73L54.97 180.95L55.21 181.16L55.45 181.37L55.70 181.58L55.96 181.79L56.24 182.00L56.51 182.21L56.80 182.42L57.09 182.62L57.39 182.83L57.69 183.02L58.00 183.22L58.32 183.41L58.64 183.60L58.97 183.79L59.30 183.98L59.67 184.17L60.06 184.37L60.46 184.57L60.87 184.77L61.29 184.96L61.71 185.15L62.15 185.33L62.58 185.51L63.03 185.69L63.49 185.86L63.95 186.03L64.41 186.19L64.89 186.35L65.45 186.53L66.01 186.71L66.59 186.88L67.17 187.04L67.76 187.20L68.36 187.36L68.96 187.51L69.57 187.66L70.19 187.80L70.81 187.94L71.44 188.08L72.07 188.21L72.73 188.35L73.42 188.49L74.11 188.62L74.80 188.75L75.50 188.88L76.20 189.01L76.90 189.14L77.60 189.26L78.30 189.39L79.01 189.51L79.71 189.63L80.41 189.76L81.11 189.88L81.76 189.99L82.40 190.11L83.04 190.22L83.68 190.34L84.32 190.45L84.95 190.57L85.58 190.69L86.20 190.81L86.82 190.93L87.44 191.06L88.05 191.18L88.65 191.31L89.28 191.45L89.93 191.60L90.59 191.76L91.25 191.91L91.91 192.07L92.59 192.23L93.29 192.39L94.00 192.55L94.74 192.71L95.52 192.88L96.32 193.04L97.17 193.20L98.06 193.36L99.62 193.61L101.29 193.87L103.07 194.11L104.94 194.36L106.89 194.60L108.91 194.84L110.98 195.08L113.10 195.32L115.24 195.55L117.41 195.79L119.57 196.02L121.74 196.26L123.88 196.49L125.99 196.73L128.09 196.96L130.16 197.20L132.21 197.43L134.25 197.67L136.27 197.91L138.27 198.14L140.27 198.38L142.25 198.62L144.22 198.85L146.19 199.09L148.16 199.33L150.12 199.56L152.08 199.80L154.04 200.03L156.00 200.26L157.97 200.50L159.94 200.73L161.92 200.96L163.92 201.19L165.92 201.42L167.94 201.65L169.97 201.88L172.03 202.10L174.04 202.32L176.02 202.53L177.99 202.74L179.96 202.94L181.89 203.13L183.79 203.32L185.64 203.50L187.42 203.66L189.13 203.82L190.75 203.96L192.26 204.08L193.67 204.18L194.94 204.27L195.53 204.30L196.08 204.33L196.61 204.36L197.12 204.38L197.62 204.40L198.12 204.42L198.61 204.44L199.11 204.46L199.63 204.48L200.16 204.50L200.71 204.52L201.29 204.54L202.27 204.58L203.74 204.65L205.35 204.74L207.09 204.83L208.94 204.94L210.89 205.05L212.91 205.17L215.00 205.30L217.14 205.44L219.30 205.58L221.48 205.72L223.66 205.86L225.83 206.01L227.96 206.15L230.06 206.29L232.14 206.43L234.19 206.57L236.21 206.71L238.22 206.85L240.21 206.99L242.18 207.13L244.14 207.26L246.09 207.40L248.04 207.53L249.98 207.67L251.88 207.80L253.74 207.92L255.59 208.05L257.45 208.17L259.31 208.30L261.17 208.42L263.03 208.54L264.89 208.66L266.75 208.78L268.61 208.90L270.47 209.02L272.34 209.14L274.20 209.26L276.15 209.39L278.10 209.51L280.05 209.63L282.01 209.75L283.97 209.87L285.93 209.99L287.89 210.11L289.86 210.23L291.83 210.35L293.81 210.47L295.79 210.59L297.78 210.71L299.77 210.83L301.77 210.94L303.77 211.06L305.78 211.18L307.79 211.30L309.81 211.42L311.84 211.53L313.87 211.65L315.91 211.77L317.96 211.89L320.01 212.01L322.07 212.13L324.14 212.24L326.22 212.36L328.30 212.48L330.38 212.60L332.45 212.71L334.50 212.83L336.54 212.94L338.55 213.05L340.54 213.16L342.48 213.27L344.39 213.37L346.25 213.47L348.06 213.56L349.56 213.64L350.77 213.70L351.95 213.76L353.09 213.81L354.19 213.86L355.26 213.91L356.29 213.96L357.27 214.00L358.21 214.04L359.11 214.07L359.96 214.10L360.75 214.13L361.50 214.15" fill="none" stroke="#00ff00" stroke-width="2.0" stroke-linejoin="miter" stroke-linecap="butt"/>
<path d="M15.80 150.00L15.79 150.80L15.78 151.59L15.77 152.38L15.75 153.16L15.74 153.93L15.72 154.69L15.71 155.44L15.69 156.19L15.68 156.92L15.67 157.65L15.66 158.36L15.65 159.07L15.65 159.76L15.64 160.32L15.64 160.87L15.65 161.40L15.65 161.93L15.66 162.45L15.67 162.96L15.69 163.46L15.71 163.96L15.73 164.44L15.76 164.92L15.79 165.38L15.82 165.84L15.86 166.29L15.90 166.62L15.93 166.91L15.97 167.21L16.00 167.50L16.05 167.78L16.09 168.06L16.14 168.33L16.19 168.60L16.24 168.86L16.30 169.12L16.36 169.37L16.42 169.61L16.49 169.85L16.55 170.08L16.62 170.31L16.70 170.52L16.78 170.73L16.86 170.94L16.94 171.14L17.03 171.34L17.12 171.52L17.22 171.71L17.32 171.88L17.42 172.05L17.53 172.22L17.64 172.38L17.74 172.51L17.84 172.64L17.95 172.76L18.05 172.87L18.16 172.98L18.27 173.08L18.38 173.18L18.50 173.28L18.62 173.37L18.75 173.46L18.87 173.54L19.00 173.62L19.14 173.69L19.29 173.76L19.47 173.84L19.64 173.91L19.83 173.97L20.01 174.02L20.20 174.07L20.40 174.11L20.59 174.14L20.79 174.17L20.99 174.19L21.19 174.20L21.40 174.20L21.60 174.19L21.80 174.18L21.99 174.17L22.18 174.14L22.37 174.11L22.55 174.08L22.74 174.04L22.93 173.99L23.11 173.93L23.29 173.87L23.48 173.80L23.65 173.73L23.83 173.65L24.00 173.57L24.17 173.47L24.34 173.38L24.50 173.27L24.65 173.17L24.80 173.05L24.95 172.93L25.10 172.81L25.23 172.67L25.37 172.53L25.50 172.39L25.62 172.24L25.74 172.08L25.85 171.92L25.95 171.74L26.07 171.55L26.17 171.34L26.26 171.13L26.35 170.91L26.43 170.69L26.51 170.46L26.57 170.23L26.63 170.00L26.69 169.76L26.74 169.52L26.78 169.29L26.82 169.05L26.85 168.82L26.88 168.63L26.90 168.45L26.92 168.27L26.93 168.09L26.95 167.91L26.96 167.73L26.97 167.56L26.98 167.39L26.99 167.22L26.99 167.06L27.00 166.90L27.00 166.75L27.00 166.60L27.00 166.60L27.03 166.87L27.07 167.15L27.11 167.42L27.15 167.69L27.18 167.96L27.23 168.23L27.27 168.50L27.31 168.77L27.36 169.03L27.41 169.30L27.46 169.56L27.51 169.82L27.57 170.10L27.63 170.38L27.69 170.66L27.76 170.94L27.83 171.21L27.91 171.49L27.99 171.76L28.07 172.03L28.15 172.29L28.24 172.55L28.33 172.81L28.43 173.06L28.53 173.31L28.60 173.49L28.68 173.68L28.77 173.86L28.85 174.04L28.94 174.22L29.03 174.39L29.12 174.56L29.22 174.73L29.31 174.90L29.41 175.07L29.52 175.23L29.62 175.39L29.75 175.57L29.89 175.76L30.04 175.95L30.18 176.13L30.34 176.31L30.50 176.49L30.66 176.65L30.83 176.82L31.01 176.98L31.19 177.14L31.37 177.29L31.56 177.43L31.76 177.57L31.95 177.70L32.15 177.83L32.35 177.95L32.57 178.08L32.79 178.20L33.02 178.32L33.27 178.44L33.52 178.57L33.79 178.69L34.06 178.82L34.36 178.96L34.66 179.10L35.20 179.35L35.83 179.63L36.49 179.93L37.18 180.24L37.89 180.56L38.62 180.88L39.35 181.20L40.07 181.52L40.79 181.83L41.48 182.14L42.15 182.42L42.78 182.69L43.31 182.91L43.69 183.07L44.06 183.22L44.41 183.36L44.75 183.49L45.08 183.62L45.40 183.74L45.72 183.86L46.04 183.97L46.37 184.08L46.70 184.18L47.05 184.29L47.41 184.40L47.89 184.53L48.41 184.68L48.96 184.82L49.53 184.97L50.13 185.11L50.74 185.26L51.37 185.41L52.02 185.57L52.69 185.72L53.37 185.87L54.06 186.02L54.76 186.18L55.52 186.34L56.34 186.52L57.17 186.69L58.00 186.87L58.84 187.04L59.67 187.21L60.49 187.38L61.31 187.55L62.11 187.72L62.90 187.88L63.68 188.04L64.43 188.20L65.16 188.36L65.78 188.49L66.38 188.62L66.96 188.74L67.54 188.87L68.10 188.99L68.65 189.11L69.19 189.22L69.72 189.34L70.25 189.45L70.78 189.57L71.31 189.67L71.83 189.78L72.30 189.88L72.73 189.96L73.17 190.05L73.60 190.13L74.04 190.22L74.48 190.30L74.93 190.38L75.37 190.47L75.82 190.55L76.28 190.63L76.73 190.71L77.19 190.79L77.68 190.87L78.25 190.97L78.83 191.06L79.41 191.16L80.01 191.26L80.61 191.35L81.22 191.45L81.84 191.54L82.47 191.64L83.11 191.74L83.76 191.83L84.42 191.93L85.09 192.03L85.92 192.15L86.84 192.28L87.78 192.42L88.74 192.55L89.72 192.69L90.73 192.83L91.76 192.97L92.82 193.12L93.90 193.27L95.01 193.42L96.15 193.57L97.32 193.73L98.65 193.91L100.37 194.15L102.14 194.39L103.97 194.63L105.84 194.89L107.75 195.14L109.70 195.40L111.69 195.67L113.71 195.93L115.76 196.20L117.84 196.47L119.93 196.74L122.04 197.02L124.17 197.29L126.30 197.55L128.43 197.82L130.57 198.08L132.71 198.34L134.84 198.60L136.97 198.85L139.08 199.09L141.17 199.33L143.25 199.56L145.30 199.78L147.32 199.99L149.31 200.20L151.27 200.39L153.20 200.58L155.12 200.76L157.03 200.94L158.93 201.11L160.84 201.29L162.76 201.46L164.69 201.64L166.65 201.82L168.63 202.00L170.66 202.19L172.73 202.39L174.74 202.59L176.77 202.79L178.82 203.00L180.85 203.21L182.87 203.42L184.84 203.62L186.75 203.82L188.58 204.01L190.32 204.19L191.94 204.36L193.43 204.51L194.77 204.64L195.65 204.72L196.19 204.77L196.69 204.81L197.18 204.85L197.64 204.89L198.09 204.93L198.53 204.96L198.98 204.99L199.43 205.02L199.90 205.05L200.39 205.08L200.90 205.12L201.51 205.15L202.82 205.24L204.31 205.33L205.95 205.43L207.72 205.54L209.61 205.66L211.59 205.78L213.66 205.91L215.80 206.04L217.99 206.18L220.20 206.32L222.43 206.46L224.66 206.60L226.87 206.74L229.05 206.88L231.21 207.01L233.34 207.15L235.45 207.29L237.55 207.42L239.62 207.55L241.67 207.69L243.70 207.82L245.72 207.95L247.73 208.08L249.72 208.21L251.68 208.34L253.56 208.46L255.44 208.58L257.30 208.70L259.16 208.82L261.01 208.94L262.86 209.06L264.70 209.18L266.53 209.30L268.37 209.42L270.20 209.53L272.03 209.65L273.86 209.76L275.75 209.88L277.66 210.00L279.58 210.12L281.49 210.24L283.42 210.36L285.35 210.48L287.29 210.59L289.24 210.71L291.20 210.83L293.17 210.94L295.15 211.06L297.15 211.17L299.16 211.29L301.19 211.40L303.23 211.51L305.28 211.63L307.34 211.74L309.41 211.85L311.49 211.96L313.57 212.08L315.65 212.19L317.73 212.30L319.82 212.41L321.90 212.51L323.97 212.62L326.04 212.73L328.11 212.84L330.16 212.94L332.20 213.05L334.23 213.15L336.24 213.25L338.24 213.35L340.22 213.45L342.18 213.55L344.12 213.65L346.03 213.75L347.92 213.85L349.54 213.93L350.84 213.99L352.11 214.06L353.34 214.12L354.54 214.18L355.68 214.23L356.76 214.28L357.77 214.32L358.71 214.35L359.55 214.38L360.31 214.40L360.96 214.40L361.50 214.40" fill="none" stroke="#0000e6" stroke-width="2.0" stroke-linejoin="miter" stroke-linecap="butt"/>
<g stroke="#222" stroke-width="0.45" fill="none" shape-rendering="auto">
<path d="M8.40 241.50H367.50"/>
<path d="M15.50 26.00V248.60"/>
<path d="M15.50 241.50v-4.60M29.50 241.50v-2.60M43.50 241.50v-2.60M56.50 241.50v-2.60M70.50 241.50v-2.60M84.50 241.50v-4.60M98.50 241.50v-2.60M112.50 241.50v-2.60M125.50 241.50v-2.60M139.50 241.50v-2.60M153.50 241.50v-4.60M167.50 241.50v-2.60M181.50 241.50v-2.60M194.50 241.50v-2.60M208.50 241.50v-2.60M222.50 241.50v-4.60M236.50 241.50v-2.60M250.50 241.50v-2.60M263.50 241.50v-2.60M277.50 241.50v-2.60M291.50 241.50v-4.60M305.50 241.50v-2.60M319.50 241.50v-2.60M332.50 241.50v-2.60M346.50 241.50v-2.60M360.50 241.50v-4.60M15.50 241.50h4.60M15.50 230.50h2.60M15.50 220.50h2.60M15.50 210.50h2.60M15.50 199.50h4.60M15.50 189.50h2.60M15.50 178.50h2.60M15.50 168.50h2.60M15.50 158.50h4.60M15.50 147.50h2.60M15.50 137.50h2.60M15.50 126.50h2.60M15.50 116.50h4.60M15.50 105.50h2.60M15.50 95.50h2.60M15.50 85.50h2.60M15.50 74.50h4.60M15.50 64.50h2.60M15.50 53.50h2.60M15.50 43.50h2.60M15.50 33.50h4.60"/>
</g>
</svg>
<div class="xl" style="transform:translate(74.95px,245px)">1</div><div class="xl" style="transform:translate(143.95px,245px)">2</div><div class="xl" style="transform:translate(212.95px,245px)">3</div><div class="xl" style="transform:translate(281.95px,245px)">4</div><div class="xl" style="transform:translate(350.95px,245px)">5</div><div class="yl" style="transform:translate(-17.25px,194px)">0.2</div><div class="yl" style="transform:translate(-17.25px,153px)">0.4</div><div class="yl" style="transform:translate(-17.25px,111px)">0.6</div><div class="yl" style="transform:translate(-17.25px,69px)">0.8</div><div class="yl" style="transform:translate(-17.25px,28px)">1.0</div>
<div class="t" style="transform:translate(8.1px,-0.2px);font-size:17.5px;line-height:20px"><span style="display:inline-block;transform:skewX(-5deg)">&#981;</span><sub style="top:2.8px;left:0.3px;font-size:72%">c</sub></div>
<div class="t" style="transform:translate(376.5px,231.6px);font-size:17.8px;line-height:20px">h<sub style="top:3.1px;left:0px;font-style:normal">1</sub></div>
</body></html>
